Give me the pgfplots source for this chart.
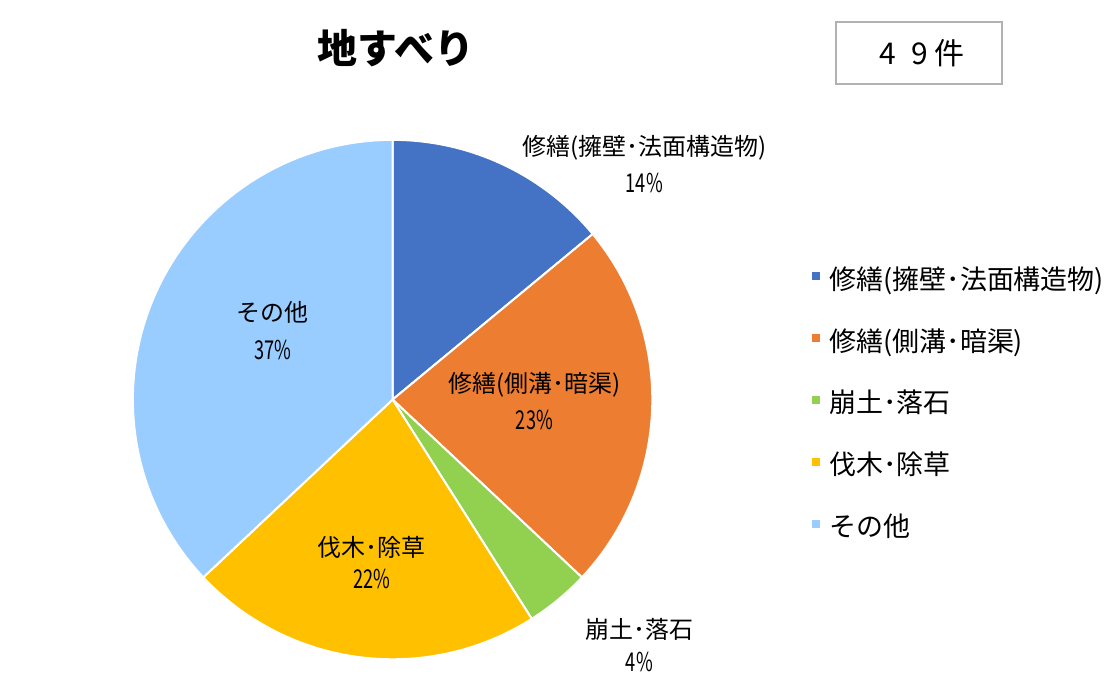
\documentclass[border=0pt]{standalone}
\usepackage{pgfplots}
\pgfplotsset{compat=1.18}
\usepackage{fontspec}
\setmainfont{Noto Sans CJK JP}
\definecolor{cblue}{HTML}{4472C4}
\definecolor{corange}{HTML}{ED7D31}
\definecolor{cgreen}{HTML}{92D050}
\definecolor{cyellow}{HTML}{FFC000}
\definecolor{clight}{HTML}{99CCFF}
\newcommand{\lab}{\fontsize{12}{14}\selectfont}
\newcommand{\pct}[1]{\scalebox{0.7}[1]{\fontsize{13}{15}\selectfont #1}}
\begin{document}
\begin{tikzpicture}
\begin{axis}[
  scale only axis, width=552pt, height=347pt,
  xmin=0, xmax=1104, ymin=0, ymax=694,
  hide axis, clip=false,
  legend style={at={(axis cs:810,425)}, anchor=north west, draw=none, fill=none,
    inner sep=0pt, font=\fontsize{13.5}{16}\selectfont, row sep=18pt,
    nodes={text height=10pt, text depth=3pt, inner sep=0pt},
    /tikz/every odd column/.append style={column sep=4pt}},
  legend cell align=left,
  legend image code/.code={\fill (0pt,0.5pt) rectangle (5pt,5.5pt);},
]
% keep the whole canvas as the picture
\path (axis cs:0,0) rectangle (axis cs:1104,694);
% shares in percent: 14, 23, 4, 22, 37 (clockwise from top)
\addplot[fill=cblue, draw=white, line width=1pt, domain={0*3.6}:{14*3.6}, samples=40]
  ({393+260*sin(x)},{294+260*cos(x)}) -- (axis cs:393,294) -- cycle;
\addlegendentry{修繕(擁壁･法面構造物)}
\addplot[fill=corange, draw=white, line width=1pt, domain={14*3.6}:{37*3.6}, samples=50]
  ({393+260*sin(x)},{294+260*cos(x)}) -- (axis cs:393,294) -- cycle;
\addlegendentry{修繕(側溝･暗渠)}
\addplot[fill=cgreen, draw=white, line width=1pt, domain={37*3.6}:{41*3.6}, samples=15]
  ({393+260*sin(x)},{294+260*cos(x)}) -- (axis cs:393,294) -- cycle;
\addlegendentry{崩土･落石}
\addplot[fill=cyellow, draw=white, line width=1pt, domain={41*3.6}:{63*3.6}, samples=50]
  ({393+260*sin(x)},{294+260*cos(x)}) -- (axis cs:393,294) -- cycle;
\addlegendentry{伐木･除草}
\addplot[fill=clight, draw=white, line width=1pt, domain={63*3.6}:{100*3.6}, samples=70]
  ({393+260*sin(x)},{294+260*cos(x)}) -- (axis cs:393,294) -- cycle;
\addlegendentry{その他}

% title and count box
\node[font=\fontsize{20}{24}\selectfont\bfseries] at (axis cs:396,646) {地すべり};
\draw[black!30, line width=0.8pt] (axis cs:837,672) rectangle (axis cs:1003,610);
\node[font=\fontsize{15}{18}\selectfont] at (axis cs:923,641) {4\hspace{0.5em}9\hspace{0.2em}件};

% data labels
\node[font=\lab] at (axis cs:645,546) {修繕(擁壁･法面構造物)};
\node at (axis cs:645,511) {\pct{14\%}};
\node[font=\lab] at (axis cs:535,309) {修繕(側溝･暗渠)};
\node at (axis cs:535,274) {\pct{23\%}};
\node[font=\lab] at (axis cs:640,64) {崩土･落石};
\node at (axis cs:640,31) {\pct{4\%}};
\node[font=\lab] at (axis cs:372,146) {伐木･除草};
\node at (axis cs:372,114) {\pct{22\%}};
\node[font=\lab] at (axis cs:273,381) {その他};
\node at (axis cs:273,344) {\pct{37\%}};
\end{axis}
\end{tikzpicture}
\end{document}
